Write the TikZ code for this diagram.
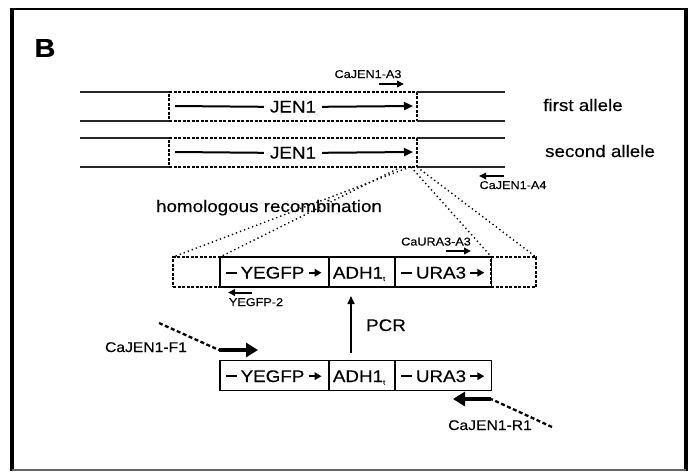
\documentclass[tikz,border=0pt]{standalone}
\usepackage{fontspec}
\setmainfont{Liberation Sans}[FakeStretch=1.12,FakeBold=0.35]
\usetikzlibrary{arrows.meta}
\newcommand\mkconstruct[2]{%
  % #1 prefix, #2 centre y
  \node[seg, minimum width=109pt] (#1s1) at (274.5,#2) {};
  \node[seg, minimum width=66pt]  (#1s2) at (362,#2) {};
  \node[seg, minimum width=96pt]  (#1s3) at (443.5,#2) {};
  \node[big, anchor=base] (#1t1) at (272.5,#2+6.5) {YEGFP};
  \node[big, anchor=base] (#1t2) at (359,#2+6.5) {ADH1\raisebox{-2.5pt}{\fontsize{6.5}{7}\selectfont t}};
  \node[big, anchor=base] (#1t3) at (441,#2+6.5) {URA3};
  \draw[segline] ([xshift=-3.5pt]#1t1.west) -- ++(-11,0);
  \draw[segarrow] ([xshift=4pt]#1t1.east) -- ++(13,0);
  \draw[segline] ([xshift=-3.5pt]#1t3.west) -- ++(-11,0);
  \draw[segarrow] ([xshift=4pt]#1t3.east) -- ++(14,0);
}
\begin{document}
\begin{tikzpicture}[x=1pt,y=-1pt,
  big/.style={font=\fontsize{16.8}{18}\selectfont, inner sep=0pt},
  mid/.style={font=\fontsize{14}{16}\selectfont, inner sep=0pt},
  small/.style={font=\fontsize{11.3}{13}\selectfont, inner sep=0pt},
  chrom/.style={line width=1.3pt, draw=black!85},
  genebox/.style={draw, line width=1.6pt, dash pattern=on 3pt off 1.5pt, inner sep=0pt, outer sep=0pt, minimum width=248pt, minimum height=29pt},
  sidebox/.style={draw, line width=1.6pt, dash pattern=on 3pt off 1.5pt, inner sep=0pt, outer sep=0pt, minimum height=30pt},
  seg/.style={draw, line width=1.4pt, inner sep=0pt, outer sep=0pt, minimum height=30pt},
  segline/.style={line width=2pt},
  segarrow/.style={line width=2pt, -{Triangle[length=7pt,width=7.5pt]}},
  genearrow/.style={line width=2pt, -{Triangle[length=9pt,width=8pt]}},
  primer/.style={line width=2pt, -{Triangle[length=7pt,width=6.5pt]}},
  bigprimer/.style={line width=3.2pt, -{Triangle[length=12pt,width=14pt]}},
  tail/.style={line width=2.3pt, dash pattern=on 4pt off 2.5pt},
  dotline/.style={line width=1.4pt, dash pattern=on 1.3pt off 3pt},
  pcr/.style={line width=1.6pt, -{Triangle[length=8pt,width=7pt]}}
]
\useasboundingbox (0,0) rectangle (693,471);
% frame
\draw[line width=4pt] (11.5,7.5) -- (11.5,471);
\draw[line width=3.5pt] (686,7.5) -- (686,471);
\draw[line width=2.5pt] (9.5,9) -- (688,9);
\draw[line width=1.5pt, black!60] (11.5,470) -- (686,470);
\node[font=\fontsize{26}{28}\selectfont\bfseries, inner sep=0pt] (lblB) at (45,48) {B};

% alleles
\node[genebox] (g1) at (293,106.5) {};
\node[genebox] (g2) at (293,152.5) {};
\draw[chrom] (g1.north west) -- (80,92);
\draw[chrom] (g1.south west) -- (80,121);
\draw[chrom] (g1.north east) -- (505,92);
\draw[chrom] (g1.south east) -- (505,121);
\draw[chrom] (g2.north west) -- (80,138);
\draw[chrom] (g2.south west) -- (80,167);
\draw[chrom] (g2.north east) -- (505,138);
\draw[chrom] (g2.south east) -- (505,167);
\node[big, anchor=base] (j1) at (293,112.5) {JEN1};
\node[big, anchor=base] (j2) at (293,158.5) {JEN1};
\draw[line width=2pt] (175,106) -- ([xshift=-6pt]j1.west);
\draw[genearrow] ([xshift=6pt]j1.east) -- (413,106);
\draw[line width=2pt] (175,152) -- ([xshift=-6pt]j2.west);
\draw[genearrow] ([xshift=6pt]j2.east) -- (413,152);
\node[big, anchor=base] (fa) at (583,111) {first allele};
\node[big, anchor=base] (sa) at (600,157) {second allele};

% primers on alleles
\node[small, anchor=base] (pA3) at (368,78) {CaJEN1-A3};
\draw[primer] (379,84) -- (404,84);
\node[small, anchor=base] (pA4) at (513,189) {CaJEN1-A4};
\draw[primer] (504,176) -- (479,176);

\node[big, anchor=base] (hr) at (269,212) {homologous recombination};

% middle construct
\node[sidebox, minimum width=47pt] (mL) at (196.5,272) {};
\node[sidebox, minimum width=45pt] (mR) at (513.5,272) {};
\mkconstruct{m}{272}
\draw[dotline] ([xshift=-7pt]g2.south east) -- (mL.north west);
\draw[dotline] ([xshift=-16pt]g2.south east) -- (ms1.north west);
\draw[dotline] ([xshift=-6pt]g2.south east) -- (ms3.north east);
\draw[dotline] (g2.south east) -- (mR.north east);
\node[small, anchor=base] (pU3) at (436,245.5) {CaURA3-A3};
\draw[primer] (446,251) -- (471,251);
\node[small, anchor=base] (pY2) at (256,306) {YEGFP-2};
\draw[primer] (252,292.5) -- (228,292.5);

% bottom construct
\mkconstruct{b}{375.5}
\draw[pcr] ([shift={(-11,-8)}]bs2.north) -- ([shift={(-11,9)}]ms2.south);
\node[big, anchor=base] (pcrl) at (386,331) {PCR};

% PCR primers
\node[mid, anchor=base] (pF1) at (146,352) {CaJEN1-F1};
\coordinate (f1tail) at (159,323);
\coordinate (f1a) at (219,350);
\coordinate (f1b) at (258,350);
\draw[tail] (f1tail) -- (f1a);
\draw[bigprimer] (f1a) -- (f1b);
\node[mid, anchor=base] (pR1) at (490,430) {CaJEN1-R1};
\coordinate (r1tail) at (552,427);
\coordinate (r1a) at (491,399);
\coordinate (r1b) at (453,399);
\draw[tail] (r1tail) -- (r1a);
\draw[bigprimer] (r1a) -- (r1b);
\end{tikzpicture}
\end{document}
